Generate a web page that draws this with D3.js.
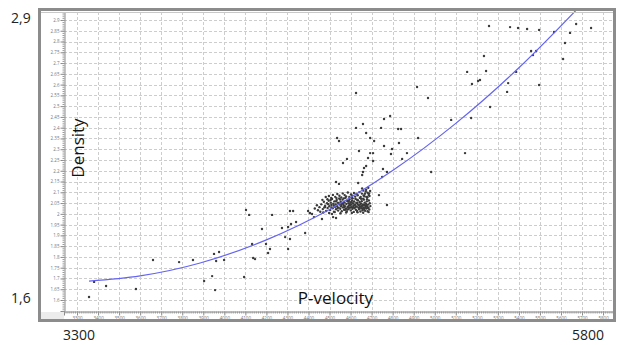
<!DOCTYPE html>
<html><head><meta charset="utf-8">
<script src="https://cdn.jsdelivr.net/npm/d3@7"></script>
<style>body{margin:0;background:#fff}svg{display:block;font-family:'Open Sans',sans-serif}</style>
</head><body><svg id="c" width="617" height="345"></svg>
<script>
// ---- data (P-velocity, Density) ----
const xTickValues = [3300,3400,3500,3600,3700,3800,3900,4000,4100,4200,4300,4400,4500,4600,4700,4800,4900,5000,5100,5200,5300,5400,5500,5600,5700,5800];
const yTickValues = [1.6,1.65,1.7,1.75,1.8,1.85,1.9,1.95,2,2.05,2.1,2.15,2.2,2.25,2.3,2.35,2.4,2.45,2.5,2.55,2.6,2.65,2.7,2.75,2.8,2.85,2.9];
const rangeLabelsY = ["2,9", "1,6"];
const rangeLabelsX = ["3300", "5800"];

const scatteredPoints = [
 [3357,1.614],[3381,1.684],[3438,1.665],[3580,1.651],[3661,1.786],[3785,1.776],[3851,1.786],
 [3951,1.814],[3975,1.823],[3961,1.781],[3999,1.786],[3942,1.711],[3904,1.688],[3956,1.646],
 [4094,1.707],[4132,1.860],[4137,1.795],[4146,1.790],[4198,1.860],[4208,1.818],[4217,1.837],[4303,1.837],
 [4103,2.018],[4118,1.995],[4227,1.995],[4179,1.930],[4274,1.934],[4303,1.939],[4317,1.953],
 [4312,2.013],[4327,2.013],[4341,1.962],[4384,1.911],[4289,1.892],[4312,1.883],[4398,2.013],
 [4407,2.004],[4417,1.999],[4426,1.985],[4464,1.976],[4479,2.032],[4512,1.999],[4517,1.985],[4531,1.981],
 [4536,2.352],[4545,2.338],[4626,2.399],[4659,2.417],[4674,2.375],[4693,2.352],[4712,2.338],
 [4640,2.292],[4693,2.282],[4707,2.282],[4683,2.259],[4707,2.245],[4564,2.236],[4583,2.255],
 [4674,2.222],[4664,2.213],[4659,2.194],[4655,2.180],[4531,2.148],[4545,2.139],[4636,2.143],
 [4745,2.399],[4759,2.315],[4797,2.301],[4792,2.278],[4830,2.329],[4826,2.394],[4840,2.394],
 [4868,2.282],[4845,2.255],[4773,2.194],[4754,2.208],[4750,2.171],[4735,2.087],[4773,2.041],
 [4921,2.352],[4968,2.538],[4916,2.589],[4626,2.561],[4759,2.440],[4788,2.454],[5078,2.436],
 [5173,2.445],[5144,2.282],[4983,2.194],[5263,2.496],[5177,2.603],[5206,2.617],[5215,2.621],
 [5154,2.659],[5244,2.663],[5387,2.659],[5234,2.733],[5344,2.566],[5349,2.607],[5496,2.598],
 [5458,2.756],[5482,2.756],[5467,2.737],[5619,2.793],[5610,2.719],[5258,2.872],[5358,2.867],
 [5396,2.863],[5439,2.858],[5496,2.854],[5567,2.844],[5643,2.840],[5672,2.881],[5743,2.863]
];

const clusterPoints = [
 [4452,2.031],[4461,2.044],[4468,2.022],[4473,2.056],[4479,2.038],[4484,2.013],[4488,2.049],[4491,2.027],[4496,2.061],[4499,2.035],
 [4503,2.018],[4506,2.052],[4509,2.041],[4512,2.069],[4515,2.026],[4518,2.047],[4521,2.010],[4523,2.058],[4526,2.033],[4529,2.044],
 [4531,2.021],[4534,2.064],[4536,2.037],[4539,2.052],[4541,2.015],[4543,2.029],[4546,2.071],[4548,2.043],[4551,2.024],[4553,2.056],
 [4555,2.035],[4558,2.012],[4560,2.048],[4562,2.066],[4564,2.030],[4567,2.041],[4569,2.019],[4571,2.054],[4573,2.036],[4576,2.075],
 [4578,2.025],[4580,2.046],[4582,2.011],[4584,2.060],[4586,2.033],[4589,2.050],[4591,2.022],[4593,2.039],[4595,2.068],[4597,2.028],
 [4599,2.053],[4601,2.016],[4603,2.044],[4605,2.031],[4607,2.062],[4609,2.024],[4611,2.049],[4613,2.037],[4615,2.009],[4617,2.057],
 [4619,2.027],[4621,2.042],[4623,2.070],[4625,2.019],[4627,2.051],[4629,2.034],[4631,2.013],[4633,2.046],[4635,2.063],[4637,2.029],
 [4639,2.040],[4641,2.021],[4643,2.055],[4645,2.033],[4647,2.011],[4649,2.048],[4651,2.026],[4653,2.059],[4655,2.038],[4657,2.017],
 [4659,2.044],[4661,2.030],[4663,2.066],[4665,2.023],[4667,2.052],[4669,2.014],[4671,2.037],[4673,2.047],[4675,2.025],[4677,2.058],
 [4679,2.034],[4681,2.012],[4683,2.043],[4685,2.029],[4687,2.062],[4689,2.020],[4691,2.049],[4694,2.036],
 [4662,2.085],[4668,2.093],[4675,2.079],[4681,2.098],[4686,2.088],[4672,2.104],[4690,2.083],
 [4520,2.038],[4538,2.027],[4557,2.042],[4566,2.051],[4574,2.019],[4588,2.031],[4596,2.045],[4604,2.055],[4612,2.029],[4618,2.041],
 [4624,2.033],[4632,2.052],[4640,2.027],[4646,2.043],[4652,2.035],[4658,2.024],[4664,2.041],[4670,2.030],[4676,2.041],[4682,2.027],
 [4544,2.049],[4510,2.030],[4494,2.045],[4475,2.030],[4530,2.058],[4585,2.020],[4610,2.072],[4650,2.070],[4600,2.038],[4570,2.032],
 [4445,2.017],[4456,2.010],[4440,2.040],[4466,2.065],[4430,2.025],
 [4482,2.078],[4497,2.083],[4508,2.074],[4516,2.088],[4527,2.079],[4537,2.092],[4547,2.084],[4556,2.076],[4563,2.095],[4572,2.087],
 [4579,2.081],[4587,2.099],[4594,2.078],[4602,2.090],[4608,2.084],[4616,2.097],[4622,2.080],[4628,2.092],[4634,2.086],[4642,2.101],
 [4648,2.079],[4654,2.094],[4660,2.108],[4666,2.082],[4674,2.112],[4680,2.077],[4688,2.095],[4693,2.106],[4655,2.118],[4684,2.121],
 [4490,2.068],[4505,2.064],[4533,2.073],[4550,2.067],[4568,2.072],[4592,2.060],[4606,2.075],[4630,2.066],[4644,2.074],[4660,2.070],[4678,2.068],
 [4470,2.006],[4498,2.004],[4525,2.008],[4552,2.003],[4579,2.006],[4606,2.004],[4633,2.007],[4660,2.005],[4686,2.008]
];

// trend line
const fitVelocity = [3357, 3600, 3885, 4200, 4500, 4800, 5100, 5400, 5700];
const fitDensity  = [1.688, 1.712, 1.772, 1.879, 2.020, 2.201, 2.420, 2.678, 2.974];

// ---- layout ----
const svg = d3.select("#c");
const L = 64, R = 614, T = 12, B = 311;
const x = d3.scaleLinear().domain([3238, 5852]).range([L, R]);
const y = d3.scaleLinear().domain([1.549, 2.937]).range([B, T]);

svg.append("defs").append("clipPath").attr("id","clip")
  .append("rect").attr("x",L).attr("y",9).attr("width",R-L).attr("height",B-9);

// grid
const grid = svg.append("g").attr("stroke","#cdcdcd").attr("stroke-width",1).attr("stroke-dasharray","3,2");
grid.selectAll("line.v").data(xTickValues).join("line").attr("class","v")
  .attr("x1",d=>Math.round(x(d))+0.5).attr("x2",d=>Math.round(x(d))+0.5).attr("y1",T).attr("y2",B);
grid.selectAll("line.h").data(yTickValues).join("line").attr("class","h")
  .attr("y1",d=>Math.round(y(d))+0.5).attr("y2",d=>Math.round(y(d))+0.5).attr("x1",L).attr("x2",R);

// bottom-left corner patch
svg.append("rect").attr("x",41).attr("y",B+1).attr("width",L-41).attr("height",320-B-1).attr("fill","#ececec");

// axes
const yAxis = d3.axisLeft(y).tickValues(yTickValues).tickSize(4).tickPadding(1)
  .tickFormat(d => String(+d.toFixed(2)));
const gy = svg.append("g").attr("transform",`translate(${L+0.5},0)`).call(yAxis);
gy.select(".domain").attr("stroke","#8a8a8a");
gy.selectAll(".tick line").attr("stroke","#8a8a8a");
gy.selectAll(".tick text").attr("font-size",4.5).attr("fill","#777").attr("font-family","'Open Sans',sans-serif");
const yMinor = d3.axisLeft(y).tickValues(d3.range(155,294).map(v=>v/100)).tickSize(2).tickFormat("");
const gym = svg.append("g").attr("transform",`translate(${L+0.5},0)`).call(yMinor);
gym.select(".domain").remove();
gym.selectAll(".tick line").attr("stroke","#999");

const xAxis = d3.axisBottom(x).tickValues(xTickValues).tickSize(4).tickPadding(1)
  .tickFormat(d3.format("d"));
const gx = svg.append("g").attr("transform",`translate(0,${B+0.5})`).call(xAxis);
gx.select(".domain").attr("stroke","#8a8a8a");
gx.selectAll(".tick line").attr("stroke","#8a8a8a");
gx.selectAll(".tick text").attr("font-size",4.5).attr("fill","#777").attr("font-family","'Open Sans',sans-serif");
const xMinor = d3.axisBottom(x).tickValues(d3.range(3240, 5850, 10)).tickSize(2).tickFormat("");
const gxm = svg.append("g").attr("transform",`translate(0,${B+0.5})`).call(xMinor);
gxm.select(".domain").remove();
gxm.selectAll(".tick line").attr("stroke","#999");

// points
const pts = svg.append("g").attr("clip-path","url(#clip)").attr("fill","#3a3a3a");
pts.selectAll("circle.s").data(scatteredPoints).join("circle").attr("class","s")
  .attr("cx",d=>x(d[0])).attr("cy",d=>y(d[1])).attr("r",1.2);
pts.selectAll("circle.c").data(clusterPoints).join("circle").attr("class","c")
  .attr("cx",d=>x(d[0])).attr("cy",d=>y(d[1])).attr("r",1.2);

// trend curve
const fit = fitVelocity.map((v,i)=>[v, fitDensity[i]]);
svg.append("path").datum(fit).attr("clip-path","url(#clip)")
  .attr("fill","none").attr("stroke","#6464f0").attr("stroke-width",1.2)
  .attr("d", d3.line().x(d=>x(d[0])).y(d=>y(d[1])).curve(d3.curveCatmullRom));

// frame
svg.append("line").attr("x1",41).attr("x2",613).attr("y1",12.5).attr("y2",12.5).attr("stroke","#c8c8c8");
svg.append("rect").attr("x",39.5).attr("y",9.5).attr("width",575).attr("height",311)
  .attr("fill","none").attr("stroke","#8c8c8c").attr("stroke-width",3);

// axis titles
svg.append("text").attr("transform","translate(84,148) rotate(-90)").attr("text-anchor","middle")
  .attr("font-size",17).attr("fill","#111").text("Density");
svg.append("text").attr("x",335.5).attr("y",304).attr("text-anchor","middle")
  .attr("font-size",17).attr("fill","#111").text("P-velocity");

// range labels
svg.append("text").attr("x",11).attr("y",23).attr("font-size",14).attr("fill","#222").text(rangeLabelsY[0]);
svg.append("text").attr("x",11).attr("y",303).attr("font-size",14).attr("fill","#222").text(rangeLabelsY[1]);
svg.append("text").attr("x",63).attr("y",340).attr("font-size",14).attr("fill","#222").text(rangeLabelsX[0]);
svg.append("text").attr("x",572).attr("y",340).attr("font-size",14).attr("fill","#222").text(rangeLabelsX[1]);
</script></body></html>
